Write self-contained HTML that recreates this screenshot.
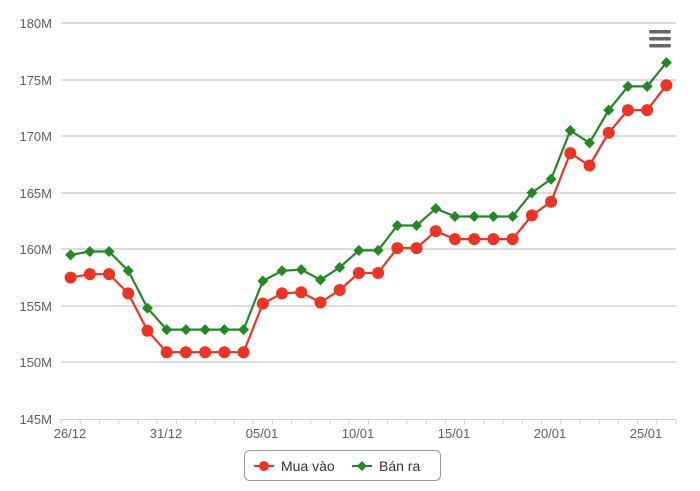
<!DOCTYPE html>
<html><head><meta charset="utf-8"><style>
body{margin:0;background:#fff;width:700px;height:491px;overflow:hidden}
svg{display:block;font-family:"Liberation Sans",sans-serif}
</style></head><body>
<svg id="c" width="700" height="491" viewBox="0 0 700 491">
<g stroke="#c8c8c8" stroke-width="1.2">
<line x1="61" x2="676" y1="23" y2="23"/><line x1="61" x2="676" y1="80" y2="80"/>
<line x1="61" x2="676" y1="136" y2="136"/><line x1="61" x2="676" y1="193" y2="193"/>
<line x1="61" x2="676" y1="249" y2="249"/><line x1="61" x2="676" y1="306" y2="306"/>
<line x1="61" x2="676" y1="362" y2="362"/>
</g>
<line x1="61" x2="676" y1="419.5" y2="419.5" stroke="#c0d0e0" stroke-width="1"/>
<g id="ticks" stroke="#c0d0e0" stroke-width="1"></g>
<g font-size="13" fill="#606060" text-anchor="end">
<text x="52" y="28">180M</text><text x="52" y="85">175M</text><text x="52" y="141">170M</text>
<text x="52" y="198">165M</text><text x="52" y="254">160M</text><text x="52" y="311">155M</text>
<text x="52" y="367">150M</text><text x="52" y="424">145M</text>
</g>
<g font-size="13" fill="#606060" text-anchor="middle">
<text x="70" y="438">26/12</text><text x="166" y="438">31/12</text><text x="262" y="438">05/01</text>
<text x="358" y="438">10/01</text><text x="454" y="438">15/01</text><text x="550" y="438">20/01</text>
<text x="646" y="438">25/01</text>
</g>
<g id="series"></g>
<g fill="#666"><rect x="649" y="30" width="22" height="3.5" rx="1.7"/><rect x="649" y="37" width="22" height="3.5" rx="1.7"/><rect x="649" y="44" width="22" height="3.5" rx="1.7"/></g>
<rect x="244.5" y="450.5" width="196" height="30" rx="5" fill="#fff" stroke="#999"/>
<line x1="254" x2="274" y1="466" y2="466" stroke="#ee3322" stroke-width="2"/><circle cx="264" cy="466" r="5" fill="#ee3322"/>
<text x="281" y="471" font-size="14" fill="#333">Mua vào</text>
<line x1="352" x2="372" y1="466" y2="466" stroke="#228822" stroke-width="2"/><path d="M362 461 L367 466 L362 471 L357 466Z" fill="#228822"/>
<text x="379" y="471" font-size="14" fill="#333">Bán ra</text>
</svg>
<script>
var r=[157.5,157.8,157.8,156.1,152.8,150.9,150.9,150.9,150.9,150.9,155.2,156.1,156.2,155.3,156.4,157.9,157.9,160.1,160.1,161.6,160.9,160.9,160.9,160.9,163.0,164.2,168.5,167.4,170.3,172.3,172.3,174.5];
var g=[159.5,159.8,159.8,158.1,154.8,152.9,152.9,152.9,152.9,152.9,157.2,158.1,158.2,157.3,158.4,159.9,159.9,162.1,162.1,163.6,162.9,162.9,162.9,162.9,165.0,166.2,170.5,169.4,172.3,174.4,174.4,176.5];
var ns="http://www.w3.org/2000/svg",S=document.getElementById('series'),T=document.getElementById('ticks');
var w=(676-61)/32;
for(var i=0;i<=32;i++){var l=document.createElementNS(ns,'line');var x=61+i*w;l.setAttribute('x1',x);l.setAttribute('x2',x);l.setAttribute('y1',419);l.setAttribute('y2',424);T.appendChild(l);}
function X(i){return 61+w*(i+0.5)}function Y(v){return 23+(180-v)*11.314}
function draw(d,c,dia){var p=d.map(function(v,i){return X(i).toFixed(1)+','+Y(v).toFixed(1)}).join(' ');
var pl=document.createElementNS(ns,'polyline');pl.setAttribute('points',p);pl.setAttribute('fill','none');pl.setAttribute('stroke',c);pl.setAttribute('stroke-width','2.2');S.appendChild(pl);
d.forEach(function(v,i){var x=X(i),y=Y(v),e;if(dia){e=document.createElementNS(ns,'path');e.setAttribute('d','M'+x+' '+(y-5.5)+'L'+(x+5.5)+' '+y+'L'+x+' '+(y+5.5)+'L'+(x-5.5)+' '+y+'Z');}else{e=document.createElementNS(ns,'circle');e.setAttribute('cx',x);e.setAttribute('cy',y);e.setAttribute('r',6);}e.setAttribute('fill',c);S.appendChild(e);});}
draw(r,'#ee3322',false);draw(g,'#228822',true);
</script>
</body></html>
